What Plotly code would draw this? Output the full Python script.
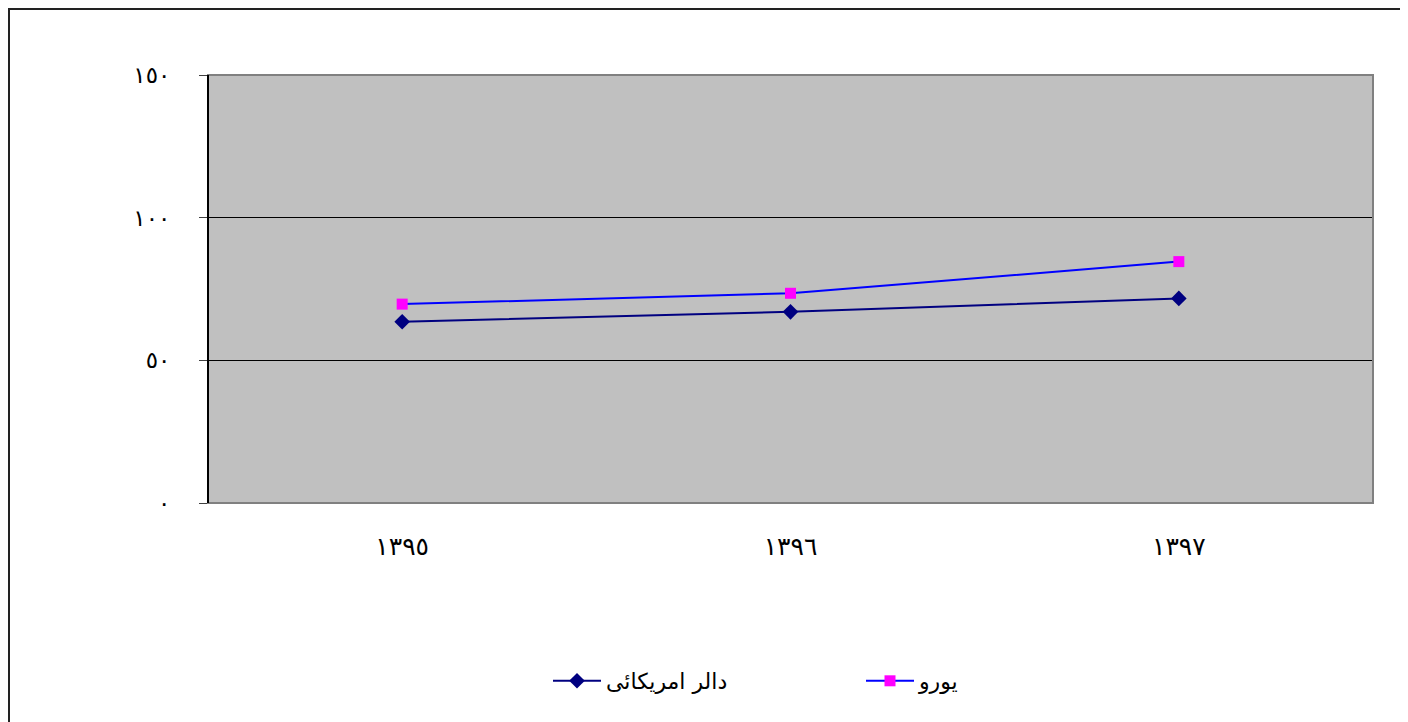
import plotly.graph_objects as go

years = ["١٣٩٥", "١٣٩٦", "١٣٩٧"]
dollar = [63.5, 67.0, 71.7]
euro = [69.7, 73.5, 84.6]
y_tickvals = [0, 50, 100, 150]
y_ticktext = ["٠", "٥٠", "١٠٠", "١٥٠"]
dollar_name = "دالر امریکائی"
euro_name = "یورو"

FONT = "DejaVu Sans"
OFF = 8  # page body margin offset

W, H = 1408 - OFF, 722 - OFF
# plot area in page coords: x 208..1373, y 75..503
L, T = 208 - OFF, 75 - OFF
R = W - (1373 - OFF)
B = H - (503 - OFF)

fig = go.Figure()
fig.add_trace(go.Scatter(
    x=years, y=dollar, name=dollar_name, mode="lines+markers",
    line=dict(color="#000080", width=2),
    marker=dict(symbol="diamond", size=12, color="#000080"),
))
fig.add_trace(go.Scatter(
    x=years, y=euro, name=euro_name, mode="lines+markers",
    line=dict(color="#0000FF", width=2),
    marker=dict(symbol="square", size=11, color="#FF00FF"),
))

pw, ph = W - L - R, H - T - B

def px_to_paper_x(x):
    return (x - OFF - L) / pw

def px_to_paper_y(y):
    return (H - B - (y - OFF)) / ph

fig.update_layout(
    width=W, height=H,
    margin=dict(l=L, r=R, t=T, b=B, autoexpand=False),
    paper_bgcolor="white", plot_bgcolor="#C0C0C0",
    font=dict(family=FONT, size=22, color="black"),
    showlegend=True,
    legend=dict(orientation="h", x=px_to_paper_x(548), y=px_to_paper_y(681),
                xanchor="left", yanchor="middle", itemwidth=48,
                entrywidth=250, font=dict(size=22, family=FONT), bgcolor="rgba(0,0,0,0)"),
    xaxis=dict(type="category", range=[-0.5, 2.5], showgrid=False, zeroline=False,
               showline=False, ticks="", ticklabelstandoff=26,
               tickfont=dict(size=25, family=FONT)),
    yaxis=dict(range=[0, 150], tickvals=y_tickvals, ticktext=y_ticktext,
               showgrid=True, gridcolor="black", gridwidth=1, zeroline=False,
               showline=False, ticks="outside", ticklen=8, tickcolor="#404040",
               ticklabelstandoff=24, tickfont=dict(size=23, family=FONT)),
)

# plot area border (gray) and left axis line (black)
fig.add_shape(type="rect", xref="paper", yref="paper", x0=0, y0=0, x1=1, y1=1,
              line=dict(color="#808080", width=2), layer="above")
fig.add_shape(type="line", xref="paper", yref="paper", x0=0, y0=0, x1=0, y1=1,
              line=dict(color="black", width=2), layer="above")

# outer chart frame
fig.add_shape(type="rect", xref="paper", yref="paper",
              x0=px_to_paper_x(8.5), y0=px_to_paper_y(760),
              x1=px_to_paper_x(1403), y1=px_to_paper_y(8.5),
              line=dict(color="#222222", width=3), layer="above")

fig.write_html("out.html")
